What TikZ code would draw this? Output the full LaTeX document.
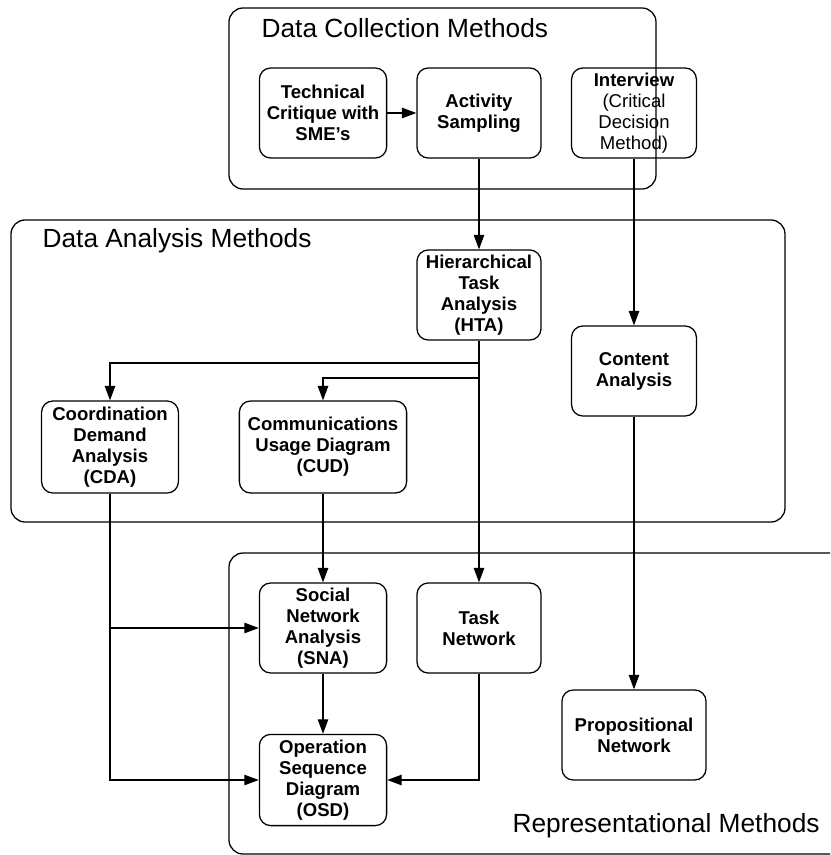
\documentclass[tikz,border=0pt]{standalone}
\usepackage{fontspec}
\setmainfont{Liberation Sans}
\usetikzlibrary{arrows.meta}

\begin{document}
\begin{tikzpicture}[x=0.025cm, y=-0.025cm, line width=0.9pt,
    >={Triangle[length=3.6mm, width=2.6mm]},
    method/.style={draw, rounded corners=8pt, align=center, inner sep=1pt, minimum height=2.25cm,
        font=\fontsize{13.2}{15}\selectfont\bfseries},
    group/.style={rounded corners=10pt},
    grouptitle/.style={anchor=west, inner sep=0pt, font=\fontsize{18.7}{21}\selectfont}]
    \useasboundingbox (0,0) rectangle (830,855);

    % group frames
    \draw[group] (229,8) rectangle (656,189);
    \node[grouptitle] (colltitle) at (261,28) {Data Collection Methods};
    \draw[group] (11,220) rectangle (785,522);
    \node[grouptitle] (anatitle) at (42,241) {Data Analysis Methods};
    \begin{scope}
        \clip (0,0) rectangle (830,855);
        \draw[group] (229,553) rectangle (900,854);
    \end{scope}
    \node[grouptitle] (reptitle) at (512,826) {Representational Methods};

    % methods
    \node[method, minimum width=3.18cm] (tech) at (323,113) {Technical\\Critique with\\SME's};
    \node[method, minimum width=3.1cm] (act) at (479,113) {Activity\\Sampling};
    \node[method, minimum width=3.12cm] (intv) at (634,113) {Interview\\\mdseries(Critical\\\mdseries Decision\\\mdseries Method)};
    \node[method, minimum width=3.1cm] (hta) at (479,295) {Hierarchical\\Task\\Analysis\\(HTA)};
    \node[method, minimum width=3.12cm] (cont) at (634,371) {Content\\Analysis};
    \node[method, minimum width=3.42cm, minimum height=2.3cm] (cda) at (110,447) {Coordination\\Demand\\Analysis\\(CDA)};
    \node[method, minimum width=4.18cm, minimum height=2.3cm] (cud) at (323,447) {Communications\\Usage Diagram\\(CUD)};
    \node[method, minimum width=3.18cm] (sna) at (323,628) {Social\\Network\\Analysis\\(SNA)};
    \node[method, minimum width=3.1cm] (task) at (479,628) {Task\\Network};
    \node[method, minimum width=3.6cm] (prop) at (634,735) {Propositional\\Network};
    \node[method, minimum width=3.18cm, minimum height=2.28cm] (osd) at (323,780) {Operation\\Sequence\\Diagram\\(OSD)};

    % connectors
    \draw[->] (tech) -- (act);
    \draw[->] (act) -- (hta);
    \draw[->] (intv) -- (cont);
    \draw[->] (hta.south) |- (110,363) -- (cda.north);
    \draw[->] (hta.south) |- (323,378) -- (cud.north);
    \draw[->] (hta) -- (task);
    \draw[->] (cud) -- (sna);
    \draw[->] (cont) -- (prop);
    \draw[->] (sna) -- (osd);
    \draw[->] (cda.south) |- (osd.west);
    \draw[->] (110,628) -- (sna.west);
    \draw[->] (task.south) |- (osd.east);
\end{tikzpicture}
\end{document}
